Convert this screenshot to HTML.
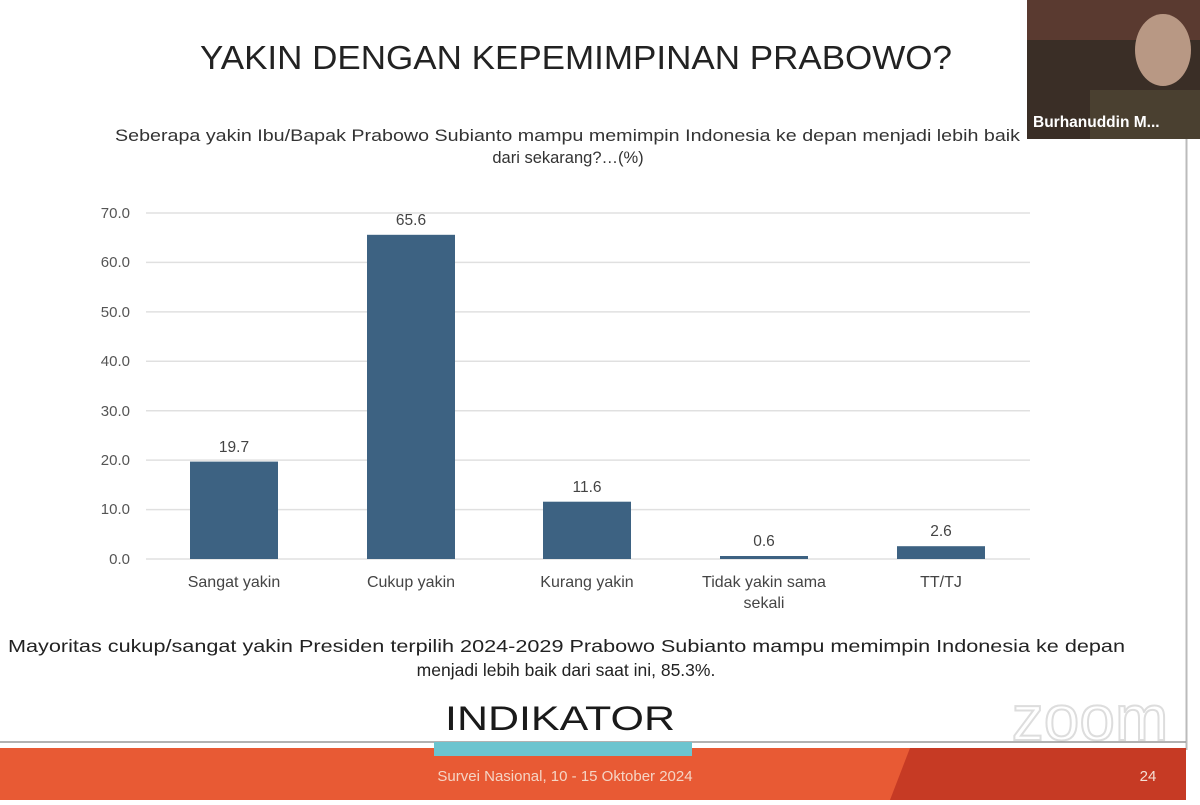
<!DOCTYPE html>
<html><head><meta charset="utf-8"><style>
body{margin:0;width:1200px;height:800px;overflow:hidden;background:#fff;font-family:"Liberation Sans",sans-serif;}
</style></head><body>
<svg width="1200" height="800" xmlns="http://www.w3.org/2000/svg" font-family="Liberation Sans, sans-serif">
<rect width="1200" height="800" fill="#fff"/>
<line x1="1186.5" y1="0" x2="1186.5" y2="750" stroke="#bbb" stroke-width="2"/>
<text x="200" y="69" font-size="33" fill="#222" textLength="752" lengthAdjust="spacingAndGlyphs">YAKIN DENGAN KEPEMIMPINAN PRABOWO?</text>
<text x="115" y="141" font-size="16.5" fill="#333" textLength="905" lengthAdjust="spacingAndGlyphs">Seberapa yakin Ibu/Bapak Prabowo Subianto mampu memimpin Indonesia ke depan menjadi lebih baik</text>
<text x="568" y="163" font-size="16.5" text-anchor="middle" fill="#333">dari sekarang?…(%)</text>
<g stroke="#e0e0e0" stroke-width="1.5">
<line x1="146" y1="213" x2="1030" y2="213"/><line x1="146" y1="262.4" x2="1030" y2="262.4"/>
<line x1="146" y1="311.9" x2="1030" y2="311.9"/><line x1="146" y1="361.3" x2="1030" y2="361.3"/>
<line x1="146" y1="410.7" x2="1030" y2="410.7"/><line x1="146" y1="460.1" x2="1030" y2="460.1"/>
<line x1="146" y1="509.6" x2="1030" y2="509.6"/><line x1="146" y1="559" x2="1030" y2="559"/>
</g>
<g font-size="15" fill="#555" text-anchor="end">
<text x="130" y="218">70.0</text><text x="130" y="267">60.0</text><text x="130" y="317">50.0</text>
<text x="130" y="366">40.0</text><text x="130" y="416">30.0</text><text x="130" y="465">20.0</text>
<text x="130" y="514">10.0</text><text x="130" y="564">0.0</text>
</g>
<g fill="#3d6282">
<rect x="190" y="461.6" width="88" height="97.4"/>
<rect x="367" y="234.8" width="88" height="324.2"/>
<rect x="543" y="501.7" width="88" height="57.3"/>
<rect x="720" y="556" width="88" height="3"/>
<rect x="897" y="546.2" width="88" height="12.8"/>
</g>
<g font-size="15.5" fill="#444" text-anchor="middle">
<text x="234" y="452">19.7</text><text x="411" y="225">65.6</text><text x="587" y="492">11.6</text>
<text x="764" y="546">0.6</text><text x="941" y="536">2.6</text>
</g>
<g font-size="16" fill="#444" text-anchor="middle">
<text x="234" y="587">Sangat yakin</text><text x="411" y="587">Cukup yakin</text><text x="587" y="587">Kurang yakin</text>
<text x="764" y="587">Tidak yakin sama</text><text x="764" y="608">sekali</text><text x="941" y="587">TT/TJ</text>
</g>
<text x="8" y="652" font-size="17.5" fill="#222" textLength="1117" lengthAdjust="spacingAndGlyphs">Mayoritas cukup/sangat yakin Presiden terpilih 2024-2029 Prabowo Subianto mampu memimpin Indonesia ke depan</text>
<text x="566" y="676" font-size="17.5" fill="#222" text-anchor="middle">menjadi lebih baik dari saat ini, 85.3%.</text>
<text x="445" y="730" font-size="34" fill="#1a1a1a" textLength="230" lengthAdjust="spacingAndGlyphs">INDIKATOR</text>
<text x="1090" y="740" font-size="64" fill="none" stroke="#ddd" stroke-width="2" text-anchor="middle">zoom</text>
<line x1="0" y1="742" x2="1186" y2="742" stroke="#999" stroke-width="1.5"/>
<rect x="0" y="748" width="1186" height="52" fill="#e85a34"/>
<polygon points="910,748 1186,748 1186,800 890,800" fill="#c63a24"/>
<rect x="434" y="742" width="258" height="14" fill="#6cc4cf"/>
<text x="565" y="781" font-size="15" fill="#f5d5c5" text-anchor="middle">Survei Nasional, 10 - 15 Oktober 2024</text>
<text x="1148" y="781" font-size="15" fill="#f5e0d5" text-anchor="middle">24</text>
<rect x="1027" y="0" width="173" height="139" fill="#3a2e26"/>
<rect x="1027" y="0" width="173" height="40" fill="#5a3a30"/>
<ellipse cx="1163" cy="50" rx="28" ry="36" fill="#b89884"/>
<rect x="1090" y="90" width="110" height="49" fill="#4a4030"/>
<text x="1033" y="127" font-size="15.5" font-weight="bold" fill="#fff">Burhanuddin M...</text>
</svg>
</body></html>
